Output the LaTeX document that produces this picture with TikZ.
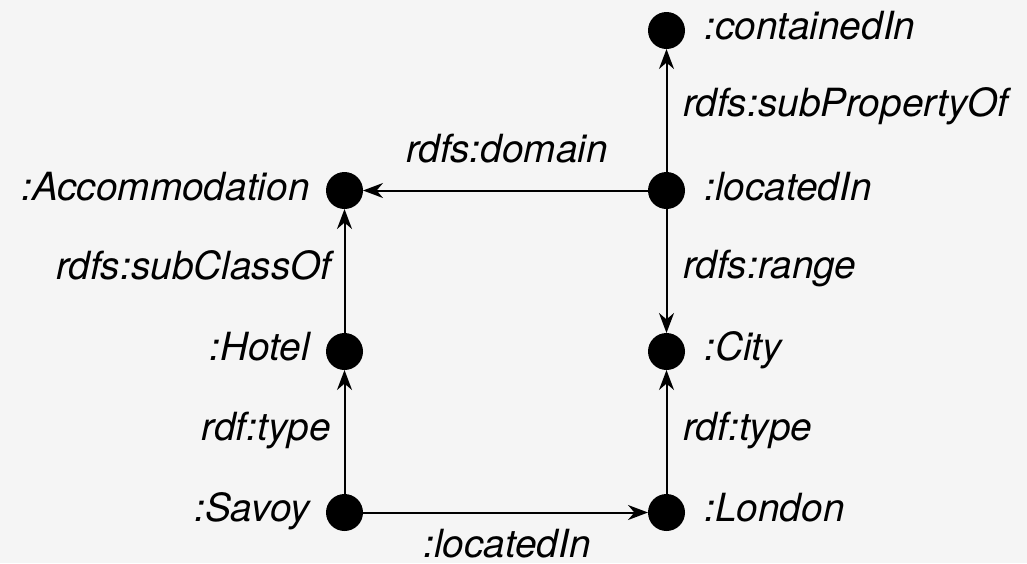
\documentclass[tikz,border=0pt]{standalone}
\usepackage{fontspec}
\setmainfont{TeX Gyre Heros}
\usetikzlibrary{arrows.meta}
\definecolor{bgcol}{HTML}{F5F5F5}
\begin{document}
\begin{tikzpicture}[x=0.5pt,y=-0.5pt,
  font=\fontsize{19.4pt}{23pt}\selectfont\itshape,
  res/.style={circle,fill=black,draw=none,minimum size=18.5pt,inner sep=0pt,outer sep=0pt},
  rlabel/.style={anchor=base west,inner sep=0pt},
  llabel/.style={anchor=base east,inner sep=0pt},
  clabel/.style={anchor=base,inner sep=0pt},
  rel/.style={line width=1pt,-{Stealth[length=10pt,width=7.5pt,inset=3.2pt]}}]
  \fill[bgcol] (0,0) rectangle (1027,563);
  \useasboundingbox (0,0) rectangle (1027,563);

  % resources
  \node[res] (contained) at (666.5,30.5) {};
  \node[res] (located)   at (666.5,190.5) {};
  \node[res] (accom)     at (344.5,190.5) {};
  \node[res] (city)      at (666.5,351.5) {};
  \node[res] (hotel)     at (344.5,351.5) {};
  \node[res] (london)    at (666.5,512.5) {};
  \node[res] (savoy)     at (344.5,512.5) {};

  % resource names
  \node[rlabel] (tcontained) at (704,39)  {:containedIn};
  \node[rlabel] (tlocated)   at (704,200) {:locatedIn};
  \node[llabel] (taccom)     at (310,200) {:Accommodation};
  \node[rlabel] (tcity)      at (704,360) {:City};
  \node[llabel] (thotel)     at (310,360) {:Hotel};
  \node[rlabel] (tlondon)    at (704,521) {:London};
  \node[llabel] (tsavoy)     at (310,521) {:Savoy};

  % statements
  \draw[rel] (located) -- (contained);
  \draw[rel] (located) -- (accom);
  \draw[rel] (located) -- (city);
  \draw[rel] (hotel)   -- (accom);
  \draw[rel] (savoy)   -- (hotel);
  \draw[rel] (london)  -- (city);
  \draw[rel] (savoy)   -- (london);

  % predicate names
  \node[rlabel] (psubprop)  at (683,116) {rdfs:subPropertyOf};
  \node[clabel] (pdomain)   at (507,162) {rdfs:domain};
  \node[rlabel] (prange)    at (683,278) {rdfs:range};
  \node[llabel] (psubclass) at (332,279) {rdfs:subClassOf};
  \node[llabel] (ptypel)    at (331,440) {rdf:type};
  \node[rlabel] (ptyper)    at (683,440) {rdf:type};
  \node[clabel] (ploc)      at (507,557) {:locatedIn};
\end{tikzpicture}
\end{document}
